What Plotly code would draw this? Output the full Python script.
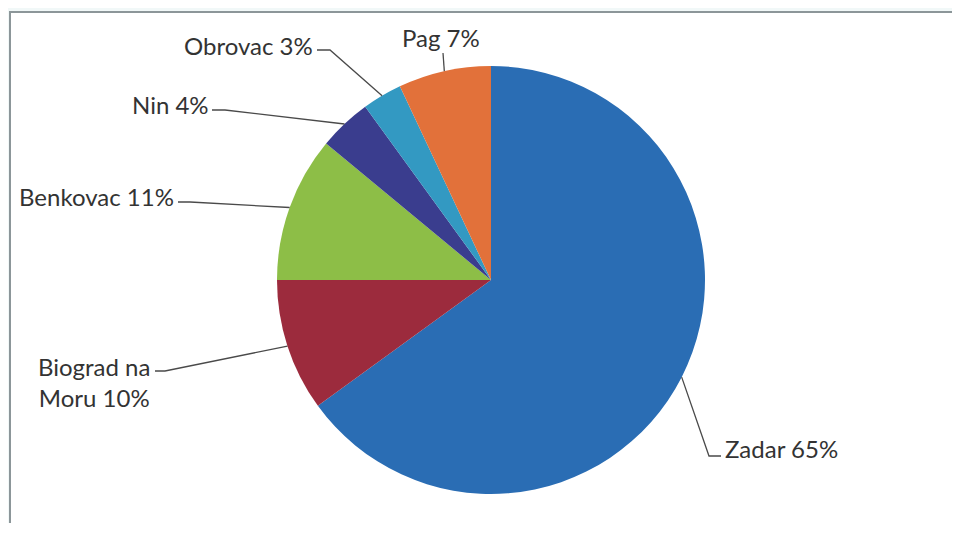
import math
import plotly.graph_objects as go

# ---- data ----
cities = ["Zadar", "Biograd na Moru", "Benkovac", "Nin", "Obrovac", "Pag"]
shares = [65, 10, 11, 4, 3, 7]
label_texts = ["Zadar 65%", "Biograd na<br>Moru 10%", "Benkovac 11%", "Nin 4%", "Obrovac 3%", "Pag 7%"]
colors = ["#2A6DB4", "#9C2B3D", "#8DBE47", "#3A3D8E", "#3399C2", "#E2713A"]

# ---- layout constants (screen pixels; page body has an 8px margin on every side) ----
OFF = 8
W, H = 960 - 2 * OFF, 539 - 3 * OFF
CX, CY, R = 491, 280, 214

def px(x):
    return (x - OFF) / W

def py(y):
    return 1 - (y - OFF) / H

# label placement style: text position, anchor, elbow point, end of horizontal tick
label_style = {
    "Zadar":           dict(tx=723, ty=448, xa="left",   elbow=(709, 456), tick=(721, 456)),
    "Biograd na Moru": dict(tx=152, ty=382, xa="right",  elbow=(165, 371), tick=(155, 371)),
    "Benkovac":        dict(tx=176, ty=197, xa="right",  elbow=(190, 202), tick=(178, 202)),
    "Nin":             dict(tx=211, ty=105, xa="right",  elbow=(225, 110), tick=(212, 110)),
    "Obrovac":         dict(tx=315, ty=45,  xa="right",  elbow=(330, 50),  tick=(317, 50)),
    "Pag":             dict(tx=441, ty=38,  xa="center", elbow=(443, 53),  tick=None),
}

fig = go.Figure()
fig.add_trace(go.Pie(
    labels=cities,
    values=shares,
    sort=False,
    direction="clockwise",
    rotation=0,
    marker=dict(colors=colors, line=dict(width=0)),
    textinfo="none",
    hoverinfo="label+percent",
    showlegend=False,
    domain=dict(x=[px(CX - R), px(CX + R)], y=[py(CY + R), py(CY - R)]),
))

BG = "#F1F8F8"
shapes = [
    # light page area outside the chart frame (top and left strips)
    dict(type="rect", xref="paper", yref="paper", x0=0, x1=1, y0=py(12), y1=1,
         fillcolor=BG, line=dict(width=0), layer="below"),
    dict(type="rect", xref="paper", yref="paper", x0=0, x1=px(10), y0=0, y1=1,
         fillcolor=BG, line=dict(width=0), layer="below"),
    # chart border (top and left edges visible)
    dict(type="path", xref="paper", yref="paper",
         path=f"M {px(10)},0 L {px(10)},{py(12)} L 1,{py(12)}",
         line=dict(color="#8C9699", width=2), layer="below"),
]
annotations = []

total = sum(shares)
cum = 0
for name, val, txt in zip(cities, shares, label_texts):
    mid = (cum + val / 2) / total * 2 * math.pi
    cum += val
    ax = CX + R * math.sin(mid)
    ay = CY - R * math.cos(mid)
    st = label_style[name]
    ex, ey = st["elbow"]
    path = f"M {px(ax)},{py(ay)} L {px(ex)},{py(ey)}"
    if st["tick"] is not None:
        path += f" L {px(st['tick'][0])},{py(st['tick'][1])}"
    shapes.append(dict(type="path", xref="paper", yref="paper", path=path,
                       line=dict(color="#4A4A4A", width=1.3)))
    annotations.append(dict(
        x=px(st["tx"]), y=py(st["ty"]), xref="paper", yref="paper",
        text=txt, showarrow=False, xanchor=st["xa"], yanchor="middle", align="center",
        font=dict(family="Lato", size=24, color="#333333"),
    ))

fig.update_layout(
    width=W, height=H,
    margin=dict(l=0, r=0, t=0, b=0),
    paper_bgcolor="white",
    shapes=shapes,
    annotations=annotations,
)

fig.write_html("out.html")
